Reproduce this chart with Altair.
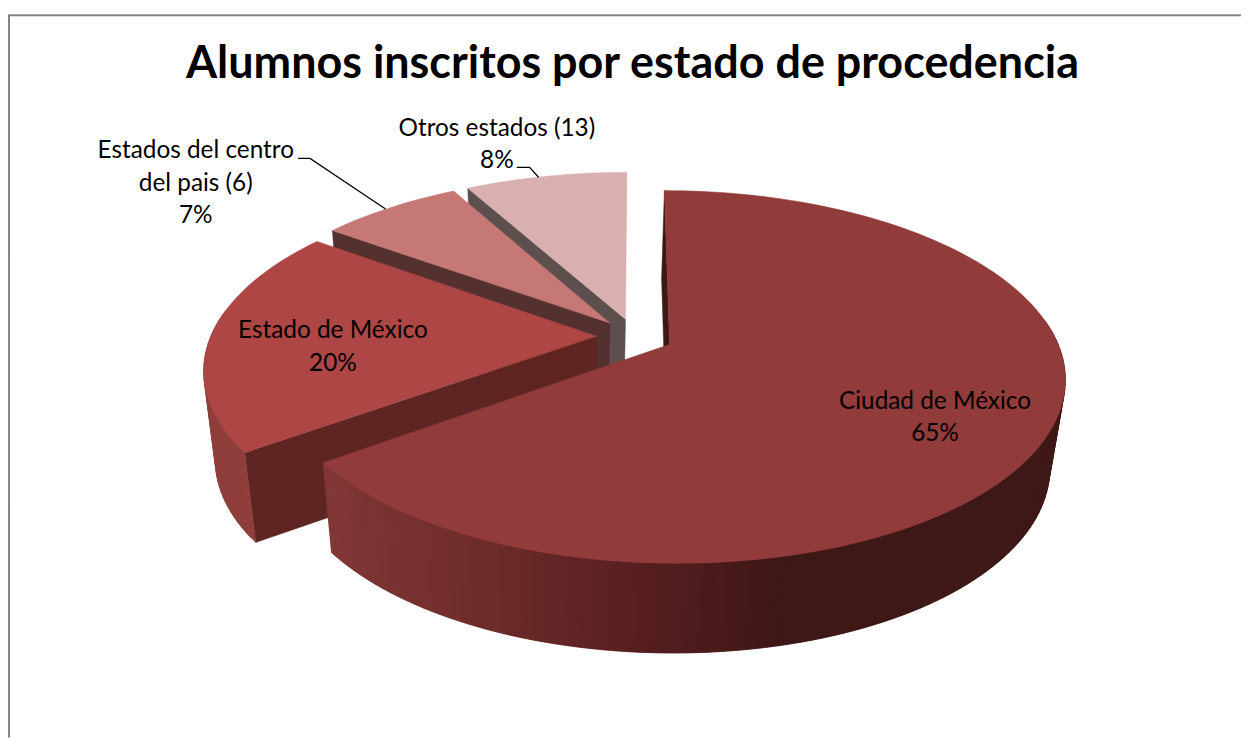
import math
import altair as alt

# ---- values ----
SLICES = ["Ciudad de México", "Estado de México", "Estados del centro del pais (6)", "Otros estados (13)"]
SHARES = [65, 20, 7, 8]
LABELS = ["Ciudad de México\n65%", "Estado de México\n20%",
          "Estados del centro\ndel pais (6)\n7%", "Otros estados (13)\n8%"]
TITLE = "Alumnos inscritos por estado de procedencia"

# ---- styles ----
TOP_COLORS = ["#913b3a", "#ad4644", "#c57876", "#d9afaf"]
FACE_COLORS = ["#3c1816", "#5e2522", "#54302f", "#5d4f4e"]
WALL_COLORS = [None, "#8f3e3b", "#8a4c4a", "#a98584"]
GRAD_X = [330, 500, 660, 790, 1100]
GRAD_RGB = [(0x81, 0x37, 0x35), (0x6d, 0x2b, 0x2a), (0x56, 0x1e, 0x1f), (0x3e, 0x18, 0x16), (0x3e, 0x19, 0x17)]
FRAME = "#868686"

# ---- layout (screen pixels of the 1249x740 page) ----
OX, OY = 8, 8
W, H = 1241, 732
EXPLODE = 0.10
TOP = dict(x0=639, y0=336, a=388, b=179, k=0.1735)
BOT = dict(x0=637, y0=426, a=376, b=180, k=0.17)
LABEL_XY = [(941, 402), (335, 331), (197, 150), (500, 127)]
LEADERS = [[(300, 157), (312, 157), (388, 208)], [(520, 166), (533, 166), (542, 176)]]


def proj(u, v, h):
    w = 1 + h["k"] * v
    return [h["x0"] + h["a"] * u / w - OX, h["y0"] - h["b"] * v / w - OY]


def grad(x):
    x = x + OX
    for i in range(len(GRAD_X) - 1):
        if x <= GRAD_X[i + 1]:
            t = max(0, (x - GRAD_X[i]) / (GRAD_X[i + 1] - GRAD_X[i]))
            c = [round(a + (b - a) * t) for a, b in zip(GRAD_RGB[i], GRAD_RGB[i + 1])]
            return "#%02x%02x%02x" % tuple(c)
    return "#3e1917"


def feature(points, color):
    ring = points + [points[0]]
    return {"type": "Feature", "geometry": {"type": "Polygon", "coordinates": [ring]},
            "properties": {"color": color}}


total = sum(SHARES)
starts = []
acc = 0
for s in SHARES:
    starts.append(acc / total * 2 * math.pi)
    acc += s

features = []
# painter's order: back slices first
for i in reversed(range(len(SHARES))):
    a0 = starts[i]
    a1 = a0 + SHARES[i] / total * 2 * math.pi
    mid = (a0 + a1) / 2
    ou, ov = EXPLODE * math.sin(mid), EXPLODE * math.cos(mid)
    n = max(6, int((a1 - a0) / math.radians(1.5)))
    angs = [a0 + (a1 - a0) * j / n for j in range(n + 1)]
    pts = [(ou + math.sin(t), ov + math.cos(t)) for t in angs]
    # the radial face that can be seen is the one at the start edge
    seen = pts[0]
    features.append(feature([proj(ou, ov, TOP), proj(*seen, TOP), proj(*seen, BOT), proj(ou, ov, BOT)], FACE_COLORS[i]))
    # outer wall: only the part that faces the viewer; strips overlap to hide seams
    for j in range(n):
        if math.cos(angs[j]) > 0.12 and math.cos(angs[j + 1]) > 0.12:
            continue
        p, q = pts[j], pts[min(j + 2, n)]
        c = WALL_COLORS[i] or grad(proj(*p, TOP)[0])
        features.append(feature([proj(*p, TOP), proj(*q, TOP), proj(*q, BOT), proj(*p, BOT)], c))
    # top surface
    features.append(feature([proj(ou, ov, TOP)] + [proj(*p, TOP) for p in pts], TOP_COLORS[i]))

lines = [{"type": "Feature", "geometry": {"type": "LineString",
          "coordinates": [[x - OX, y - OY] for x, y in L]}, "properties": {}} for L in LEADERS]
frame = [{"type": "Feature", "geometry": {"type": "LineString",
          "coordinates": [[1, H], [1, 5], [W, 5]]}, "properties": {}}]
label_rows = [{"label": t, "lon": x - OX, "lat": y - OY} for t, (x, y) in zip(LABELS, LABEL_XY)]

projection = dict(type="identity", scale=1, translate=[0, 0])

pie = alt.Chart(alt.Data(values=features)).mark_geoshape(strokeWidth=0.5).encode(
    fill=alt.Fill("properties.color:N", scale=None),
    stroke=alt.Stroke("properties.color:N", scale=None),
).project(**projection)

leaders = alt.Chart(alt.Data(values=lines)).mark_geoshape(filled=False, stroke="#000000", strokeWidth=1.3).project(**projection)
border = alt.Chart(alt.Data(values=frame)).mark_geoshape(filled=False, stroke=FRAME, strokeWidth=2).project(**projection)

labels = alt.Chart(alt.Data(values=label_rows)).mark_text(
    font="Lato", fontSize=24.5, color="#000000", align="center", baseline="middle",
    lineBreak="\n", lineHeight=32.5,
).encode(longitude="lon:Q", latitude="lat:Q", text="label:N").project(**projection)

chart = alt.layer(border, pie, leaders, labels).properties(
    width=W, height=H, padding=0, autosize=alt.AutoSizeParams(type="none"),
    background="#ffffff",
    title=alt.TitleParams(TITLE, font="Lato", fontSize=45.2, fontWeight="bold", color="#000000",
                          anchor="middle", frame="group", dx=8, dy=117, baseline="alphabetic"),
).configure_view(stroke=None)

chart.save("out.html", embed_options={"renderer": "svg", "actions": False})
